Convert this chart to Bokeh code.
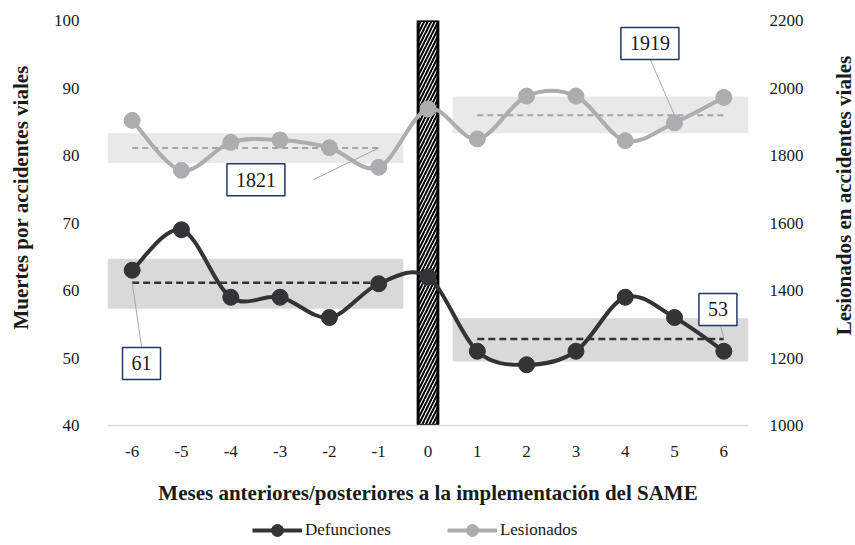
import math
import numpy as np
from bokeh.plotting import figure
from bokeh.layouts import column, row
from bokeh.models import (Range1d, LinearAxis, FixedTicker, Label, Legend, LegendItem,
                          ColumnDataSource)
from bokeh.embed import file_html
from bokeh.resources import INLINE

# ---------------- data ----------------
months = [-6, -5, -4, -3, -2, -1, 0, 1, 2, 3, 4, 5, 6]
defunciones = [63, 69, 59, 59, 56, 61, 62, 51, 49, 51, 59, 56, 51]
lesionados = [1904, 1756, 1839, 1846, 1823, 1765, 1938, 1849, 1976, 1976, 1844, 1897, 1972]

# intervals (shaded bands)
def_band_before = (57.3, 64.7)
def_band_after = (49.5, 55.9)
les_band_before = (1778, 1866)
les_band_after = (1866, 1975)

x_ticks = [-6, -5, -4, -3, -2, -1, 0, 1, 2, 3, 4, 5, 6]
left_ticks = [40, 50, 60, 70, 80, 90, 100]
right_ticks = [1000, 1200, 1400, 1600, 1800, 2000, 2200]

DARK = "#343437"
GRAY = "#adadb0"
FONT = "Liberation Serif"
TXT = "#1a1a1a"
NAVY = "#203864"

MAIN_H = 515
SIDE_W = 40
FRAME_TOP, FRAME_BOTTOM = 20, 425

p = figure(width=855 - 2 * SIDE_W, height=MAIN_H, output_backend="svg", toolbar_location=None,
           x_range=Range1d(-6.5, 6.5), y_range=Range1d(40, 100),
           min_border_left=107 - SIDE_W, min_border_right=855 - 748 - SIDE_W,
           min_border_top=FRAME_TOP, min_border_bottom=MAIN_H - FRAME_BOTTOM)
p.extra_y_ranges = {"right": Range1d(1000, 2200)}
p.outline_line_color = None
p.xgrid.visible = False
p.ygrid.visible = False

m = np.array(months)
d = np.array(defunciones, dtype=float)
l = np.array(lesionados, dtype=float)
before = m < 0
after = m > 0
d_mb, d_ma = d[before].mean(), d[after].mean()
l_mb, l_ma = l[before].mean(), l[after].mean()

# bands
p.quad(left=[-6.5], right=[-0.5], bottom=[les_band_before[0]], top=[les_band_before[1]],
       y_range_name="right", fill_color="#e9e9e9", line_color=None)
p.quad(left=[0.5], right=[6.5], bottom=[les_band_after[0]], top=[les_band_after[1]],
       y_range_name="right", fill_color="#e9e9e9", line_color=None)
p.quad(left=[-6.5], right=[-0.5], bottom=[def_band_before[0]], top=[def_band_before[1]],
       fill_color="#d9d9d9", line_color=None)
p.quad(left=[0.5], right=[6.5], bottom=[def_band_after[0]], top=[def_band_after[1]],
       fill_color="#d9d9d9", line_color=None)

# mean lines
p.line([-6, -1], [l_mb, l_mb], y_range_name="right", line_color="#a5a5a8", line_width=2, line_dash="6 4")
p.line([1, 6], [l_ma, l_ma], y_range_name="right", line_color="#a5a5a8", line_width=2, line_dash="6 4")
p.line([-6, -1], [d_mb, d_mb], line_color=DARK, line_width=2.5, line_dash="7 4")
p.line([1, 6], [d_ma, d_ma], line_color=DARK, line_width=2.5, line_dash="7 4")

# implementation bar
p.vbar(x=[0], top=[100], bottom=[40], width=0.4, fill_color="white",
       hatch_pattern="/", hatch_color="black", hatch_weight=2, hatch_scale=7,
       line_color="black", line_width=3)


def smooth(xs, ys):
    xs = np.asarray(xs, float); ys = np.asarray(ys, float)
    n = len(xs)
    xp = np.concatenate([[xs[0]], xs, [xs[-1]]])
    yp = np.concatenate([[ys[0]], ys, [ys[-1]]])
    seg = dict(x0=[], y0=[], x1=[], y1=[], cx0=[], cy0=[], cx1=[], cy1=[])
    for i in range(n - 1):
        j = i + 1
        seg["x0"].append(xp[j]); seg["y0"].append(yp[j])
        seg["x1"].append(xp[j + 1]); seg["y1"].append(yp[j + 1])
        seg["cx0"].append(xp[j] + (xp[j + 1] - xp[j - 1]) / 6)
        seg["cy0"].append(yp[j] + (yp[j + 1] - yp[j - 1]) / 6)
        seg["cx1"].append(xp[j + 1] - (xp[j + 2] - xp[j]) / 6)
        seg["cy1"].append(yp[j + 1] - (yp[j + 2] - yp[j]) / 6)
    return ColumnDataSource(seg)


p.bezier(x0="x0", y0="y0", x1="x1", y1="y1", cx0="cx0", cy0="cy0", cx1="cx1", cy1="cy1",
         source=smooth(months, lesionados), y_range_name="right", line_color=GRAY, line_width=4)
p.scatter(months, lesionados, y_range_name="right", size=16, fill_color=GRAY, line_color=GRAY)
p.bezier(x0="x0", y0="y0", x1="x1", y1="y1", cx0="cx0", cy0="cy0", cx1="cx1", cy1="cy1",
         source=smooth(months, defunciones), line_color=DARK, line_width=4)
p.scatter(months, defunciones, size=16, fill_color=DARK, line_color=DARK)

# leader lines
lead = "#a6a6a6"
p.line([-2.33, -1], [1728, l_mb], y_range_name="right", line_color=lead, line_width=1)
p.line([4.51, 5], [2084, l_ma], y_range_name="right", line_color=lead, line_width=1)
p.line([-5.81, -6], [51.7, d_mb], line_color=lead, line_width=1)
p.line([5.9, 6], [55.85, d_ma], line_color=lead, line_width=1)

# value boxes
def box(x, y, text, rng="default"):
    lab = Label(x=x, y=y, text=text, y_range_name=rng, text_align="center", text_baseline="middle",
                text_font=FONT, text_font_size="20px", text_color=TXT,
                background_fill_color="white", border_line_color=NAVY, border_line_width=1.5,
                padding=9)
    p.add_layout(lab)

box(-3.49, 1728, str(int(round(l_mb)) - 1), "right")
box(4.5, 2132, str(int(round(l_ma))), "right")
box(-5.81, 49.2, str(int(round(d_mb))))
box(5.88, 57.2, str(int(round(d_ma))))

# axes
xa = p.xaxis[0]
xa.ticker = FixedTicker(ticks=x_ticks)
xa.major_label_overrides = {t: str(t) for t in x_ticks}
xa.axis_line_color = "#d9d9d9"
xa.axis_line_width = 1.5
xa.major_tick_line_color = None
xa.minor_tick_line_color = None
xa.major_label_text_font = FONT
xa.major_label_text_font_size = "17px"
xa.major_label_text_color = TXT
xa.major_label_standoff = 14
xa.axis_label = "Meses anteriores/posteriores a la implementación del SAME"
xa.axis_label_text_font = FONT
xa.axis_label_text_font_size = "21px"
xa.axis_label_text_font_style = "bold"
xa.axis_label_text_color = TXT
xa.axis_label_standoff = 21

ya = p.yaxis[0]
ya.ticker = FixedTicker(ticks=left_ticks)
ya.axis_line_color = None
ya.major_tick_line_color = None
ya.minor_tick_line_color = None
ya.major_label_text_font = FONT
ya.major_label_text_font_size = "17px"
ya.major_label_text_color = TXT
ya.major_label_standoff = 22

ra = LinearAxis(y_range_name="right", ticker=FixedTicker(ticks=right_ticks))
ra.axis_line_color = None
ra.major_tick_line_color = None
ra.minor_tick_line_color = None
ra.major_label_text_font = FONT
ra.major_label_text_font_size = "17px"
ra.major_label_text_color = TXT
ra.major_label_standoff = 15
p.add_layout(ra, "right")


def side_title(text, cx, cy_page):
    f = figure(width=SIDE_W, height=MAIN_H, output_backend="svg", toolbar_location=None,
               x_axis_type=None, y_axis_type=None, x_range=Range1d(0, 1), y_range=Range1d(0, 1),
               min_border_left=0, min_border_right=0, min_border_top=FRAME_TOP,
               min_border_bottom=MAIN_H - FRAME_BOTTOM)
    f.grid.visible = False
    f.outline_line_color = None
    f.add_layout(Label(x=cx, y=FRAME_BOTTOM - cy_page, x_units="screen", y_units="screen",
                       text=text, angle=math.pi / 2, text_align="center", text_baseline="middle",
                       text_font=FONT, text_font_size="21px", text_font_style="bold",
                       text_color=TXT))
    return f


lt = side_title("Muertes por accidentes viales", 20, 197)
rt = side_title("Lesionados en accidentes viales", 28, 195)

# legend figure
lf = figure(width=855, height=30, output_backend="svg", toolbar_location=None,
            x_axis_type=None, y_axis_type=None, x_range=Range1d(0, 1), y_range=Range1d(0, 1),
            min_border_left=0, min_border_right=0, min_border_top=0, min_border_bottom=0)
lf.grid.visible = False
lf.outline_line_color = None
ld = lf.line(months, defunciones, line_color=DARK, line_width=4)
sd = lf.scatter(months, defunciones, fill_color=DARK, line_color=DARK, size=12)
ll = lf.line(months, lesionados, line_color=GRAY, line_width=4)
sl = lf.scatter(months, lesionados, fill_color=GRAY, line_color=GRAY, size=12)
legend = Legend(items=[LegendItem(label="Defunciones", renderers=[ld, sd]),
                       LegendItem(label="Lesionados", renderers=[ll, sl])],
                orientation="horizontal", location=(252, 0),
                label_text_font=FONT, label_text_font_size="17px", label_text_color=TXT,
                glyph_width=50, glyph_height=30, label_standoff=3, spacing=56,
                padding=0, margin=0, border_line_color=None, background_fill_alpha=0)
lf.add_layout(legend, "center")

layout = column(row(lt, p, rt, spacing=0), lf, spacing=0)
open("out.html", "w").write(file_html(layout, INLINE))
